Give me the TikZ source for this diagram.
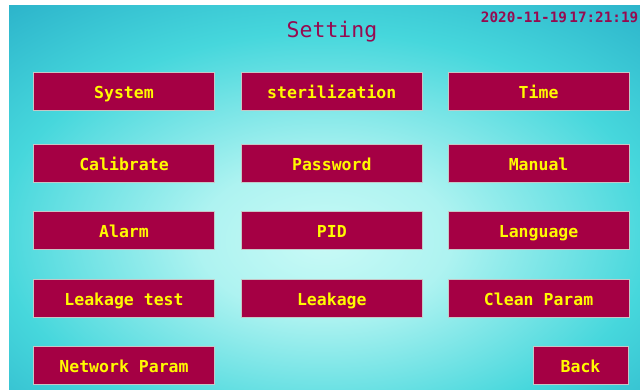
\documentclass[tikz,border=0pt]{standalone}
\usepackage{xcolor}
\usepackage{fontspec}
\usepackage{tikz}
\usetikzlibrary{positioning}
\newfontfamily\hmifont{DejaVu Sans Mono}
\definecolor{btnred}{RGB}{165,0,68}
\definecolor{btnyellow}{RGB}{255,250,0}
\definecolor{titlered}{RGB}{150,10,80}
\definecolor{tealdark}{RGB}{28,158,192}
\definecolor{cyanmid}{RGB}{70,215,220}
\definecolor{cyanlight}{RGB}{200,250,246}
\pgfdeclareradialshading{screenglow}{\pgfpoint{0bp}{-6bp}}{%
	color(0bp)=(cyanlight); color(10bp)=(cyanlight!80!cyanmid);
	color(26bp)=(cyanmid); color(46bp)=(tealdark); color(100bp)=(tealdark)}

\begin{document}
\begin{tikzpicture}
	[x=1pt,y=-1pt,
	button/.style={draw=gray!45, line width=0.8pt, fill=btnred, text=btnyellow,
		minimum width=181pt, minimum height=38pt, inner sep=0pt,
		text height=14.5pt, text depth=0pt,
		font=\hmifont\bfseries\fontsize{16.5}{16.5}\selectfont}]
	\clip (0,0) rectangle (640,390);
	\fill[white] (0,0) rectangle (640,390);
	\shade[shading=screenglow] (9,6) rectangle (640,390);
	% header
	\node[text=titlered, font=\hmifont\fontsize{21.5}{21.5}\selectfont] (title) at (332,32) {Setting};
	\node[anchor=east, text=titlered, font=\hmifont\bfseries\fontsize{14.3}{14.3}\selectfont, inner sep=0pt] (clock) at (638.5,17) {2020-11-19\,17:21:19};
	% first column
	\node[button] (system) at (124,91) {System};
	\node[button] (calib) at (124,163) {Calibrate};
	\node[button] (alarm) at (124,230.5) {Alarm};
	\node[button] (leaktest) at (124,298) {Leakage test};
	\node[button] (network) at (124,365.5) {Network Param};
	% second column
	\node[button, right=26pt of system] (steril) {sterilization};
	\node[button, right=26pt of calib] (password) {Password};
	\node[button, right=26pt of alarm] (pid) {PID};
	\node[button, right=26pt of leaktest] (leakage) {Leakage};
	% third column
	\node[button, right=25pt of steril] (time) {Time};
	\node[button, right=25pt of password] (manual) {Manual};
	\node[button, right=25pt of pid] (language) {Language};
	\node[button, right=25pt of leakage] (clean) {Clean Param};
	\node[button, minimum width=95pt] (back) at (580.5,365.5) {Back};
\end{tikzpicture}
\end{document}
